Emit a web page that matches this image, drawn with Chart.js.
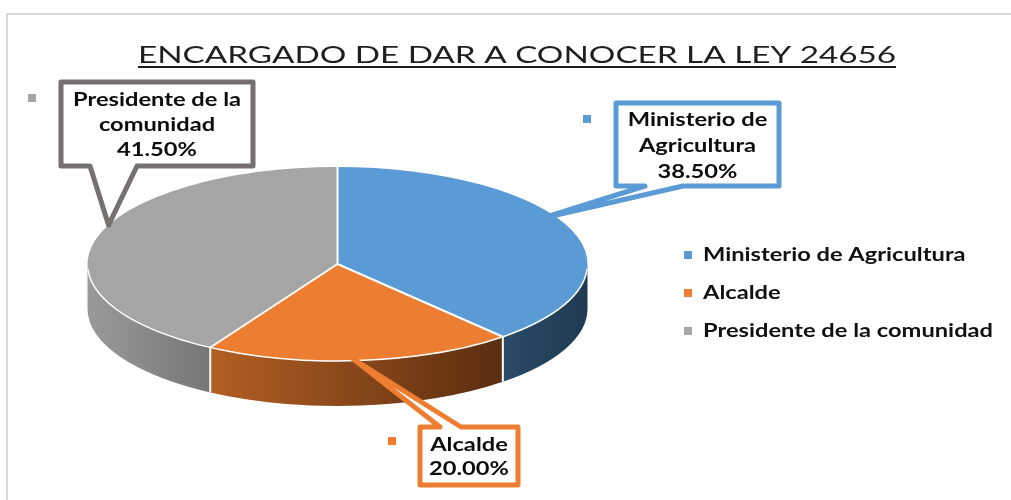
<!DOCTYPE html>
<html lang="es">
<head>
<meta charset="utf-8">
<title>Encargado de dar a conocer la ley 24656</title>
<script src="https://cdn.jsdelivr.net/npm/chart.js@4.4.1/dist/chart.umd.min.js"></script>
<style>
  html, body { margin: 0; padding: 0; background: #fff; }
  #wrap { width: 1011px; height: 500px; }
</style>
</head>
<body>
<div id="wrap"><canvas id="grafico"></canvas></div>
<script>
// datos
var titulo = 'ENCARGADO DE DAR A CONOCER LA LEY 24656';
var categorias = ['Ministerio de Agricultura', 'Alcalde', 'Presidente de la comunidad'];
var porcentajes = [38.5, 20.0, 41.5];

// estilos
var coloresTapa = ['#5b9bd5', '#ed7d31', '#a5a5a5'];
var coloresBorde = ['#5b9bd5', '#ed7d31', '#767171'];
var coloresLado = [['#2a4a67', '#1f3a52'], ['#b35f23', '#5a2e10'], ['#9a9a9a', '#767676']];

var RX = 250, RY = 97, PROF = 45;
var fuenteTexto = 'bold 18px Lato';

// cajas de las etiquetas (x, y, ancho, alto, lado de la flecha, base de la flecha, punto en la porcion)
var cajas = [
    { x: 616, y: 103, w: 163, h: 83, lado: 'abajo', b1: 645, b2: 683, f: 0.433, r: 0.95, m: [587, 119], l0: 17, lh: 26 },
    { x: 420, y: 427, w: 98, h: 58, lado: 'arriba', b1: 440, b2: 461, f: 0.525, r: 0.98, m: [392, 441], l0: 18, lh: 24 },
    { x: 61, y: 82, w: 192, h: 84, lado: 'abajo', b1: 90, b2: 137, f: 0.556, r: 1.0, m: [32, 98], l0: 18, lh: 25 }
];

function textoEstirado(ctx, txt, x, y, sx, align) {
    ctx.save();
    ctx.translate(x, y);
    ctx.scale(sx, 1);
    ctx.textAlign = align;
    ctx.textBaseline = 'middle';
    ctx.fillText(txt, 0, 0);
    ctx.restore();
}

function cortar(ctx, txt, max, sx) {
    var palabras = txt.split(' ');
    var lineas = [];
    var actual = '';
    palabras.forEach(function (p) {
        var prueba = actual ? actual + ' ' + p : p;
        if (ctx.measureText(prueba).width * sx > max && actual) {
            lineas.push(actual);
            actual = p;
        } else {
            actual = prueba;
        }
    });
    lineas.push(actual);
    return lineas;
}

var pastel3d = {
    id: 'pastel3d',
    beforeDatasetsDraw: function (chart) {
        var ctx = chart.ctx;
        var meta = chart.getDatasetMeta(0);
        var a0 = meta.data[0];
        var cx = a0.x, cy = a0.y, R = a0.outerRadius;
        // lados
        meta.data.forEach(function (arc, i) {
            var a1 = Math.max(arc.startAngle, 0);
            var a2 = Math.min(arc.endAngle, Math.PI);
            if (a2 <= a1) return;
            var xDer = cx + RX * Math.cos(a1);
            var xIzq = cx + RX * Math.cos(a2);
            var g = ctx.createLinearGradient(xIzq, 0, xDer, 0);
            g.addColorStop(0, coloresLado[i][0]);
            g.addColorStop(1, coloresLado[i][1]);
            ctx.beginPath();
            ctx.ellipse(cx, cy, RX, RY, 0, a1, a2);
            ctx.ellipse(cx, cy + PROF, RX, RY, 0, a2, a1, true);
            ctx.closePath();
            ctx.fillStyle = g;
            ctx.fill();
        });
        // separaciones en los lados
        ctx.strokeStyle = '#ffffff';
        ctx.lineWidth = 2;
        meta.data.forEach(function (arc) {
            var a = arc.startAngle;
            if (a > 0 && a < Math.PI) {
                var x = cx + RX * Math.cos(a), y = cy + RY * Math.sin(a);
                ctx.beginPath();
                ctx.moveTo(x, y);
                ctx.lineTo(x, y + PROF);
                ctx.stroke();
            }
        });
        // tapa elíptica
        ctx.save();
        ctx.translate(cx, cy);
        ctx.scale(RX / R, RY / R);
        ctx.translate(-cx, -cy);
    },
    afterDatasetsDraw: function (chart) {
        var ctx = chart.ctx;
        ctx.restore();
        var meta = chart.getDatasetMeta(0);
        var a0 = meta.data[0];
        var cx = a0.x, cy = a0.y;
        ctx.strokeStyle = '#ffffff';
        ctx.lineWidth = 2;
        meta.data.forEach(function (arc) {
            var a = arc.startAngle;
            ctx.beginPath();
            ctx.moveTo(cx, cy);
            ctx.lineTo(cx + RX * Math.cos(a), cy + RY * Math.sin(a));
            ctx.stroke();
        });
        ctx.lineWidth = 1.5;
        ctx.beginPath();
        ctx.ellipse(cx, cy, RX, RY, 0, 0.05, Math.PI - 0.05);
        ctx.stroke();
    },
    afterDraw: function (chart) {
        var ctx = chart.ctx;
        var meta = chart.getDatasetMeta(0);
        var a0 = meta.data[0];
        var cx = a0.x, cy = a0.y;

        // marco
        ctx.save();
        ctx.strokeStyle = '#d9d9d9';
        ctx.lineWidth = 2;
        ctx.beginPath();
        ctx.moveTo(7, 500);
        ctx.lineTo(7, 14);
        ctx.lineTo(1011, 14);
        ctx.stroke();

        // titulo
        ctx.fillStyle = '#1f1f1f';
        ctx.font = '24px Lato';
        var anchoT = ctx.measureText(titulo).width;
        var sxT = 758 / anchoT;
        textoEstirado(ctx, titulo, 517, 55, sxT, 'center');
        ctx.fillRect(138, 66, 758, 2);

        // escala del texto en negrita
        ctx.font = fuenteTexto;
        var sx = 290 / ctx.measureText(categorias[2]).width;

        // leyenda
        var filas = [255, 293, 331];
        categorias.forEach(function (c, i) {
            ctx.fillStyle = coloresTapa[i];
            ctx.fillRect(684, filas[i] - 4, 8, 8);
            ctx.fillStyle = '#111111';
            textoEstirado(ctx, c, 703, filas[i], sx, 'left');
        });

        // etiquetas con flecha
        cajas.forEach(function (b, i) {
            var arc = meta.data[i];
            var a = arc.startAngle + b.f * (arc.endAngle - arc.startAngle);
            var tx = cx + RX * b.r * Math.cos(a);
            var ty = cy + RY * b.r * Math.sin(a);
            ctx.beginPath();
            if (b.lado === 'abajo') {
                ctx.moveTo(b.x, b.y);
                ctx.lineTo(b.x + b.w, b.y);
                ctx.lineTo(b.x + b.w, b.y + b.h);
                ctx.lineTo(b.b2, b.y + b.h);
                ctx.lineTo(tx, ty);
                ctx.lineTo(b.b1, b.y + b.h);
                ctx.lineTo(b.x, b.y + b.h);
            } else {
                ctx.moveTo(b.x, b.y);
                ctx.lineTo(b.b1, b.y);
                ctx.lineTo(tx, ty);
                ctx.lineTo(b.b2, b.y);
                ctx.lineTo(b.x + b.w, b.y);
                ctx.lineTo(b.x + b.w, b.y + b.h);
                ctx.lineTo(b.x, b.y + b.h);
            }
            ctx.closePath();
            ctx.fillStyle = '#ffffff';
            ctx.fill();
            ctx.lineJoin = 'round';
            ctx.lineWidth = 5;
            ctx.strokeStyle = coloresBorde[i];
            ctx.stroke();

            ctx.fillStyle = coloresTapa[i];
            ctx.fillRect(b.m[0] - 4, b.m[1] - 4, 8, 8);

            var lineas = cortar(ctx, categorias[i], b.w - 14, sx);
            lineas.push(porcentajes[i].toFixed(2) + '%');
            ctx.fillStyle = '#0d0d0d';
            lineas.forEach(function (t, k) {
                textoEstirado(ctx, t, b.x + b.w / 2, b.y + b.l0 + k * b.lh, sx, 'center');
            });
        });
        ctx.restore();
    }
};

var ctx = document.getElementById('grafico').getContext('2d');
var grafico = new Chart(ctx, {
    type: 'pie',
    data: {
        labels: categorias,
        datasets: [{
            data: porcentajes,
            backgroundColor: coloresTapa,
            borderWidth: 0,
            clip: false
        }]
    },
    options: {
        responsive: true,
        maintainAspectRatio: false,
        animation: false,
        events: [],
        layout: { padding: { left: 88, right: 424, top: 100, bottom: 72 } },
        plugins: {
            legend: { display: false },
            title: { display: false },
            tooltip: { enabled: false }
        }
    },
    plugins: [pastel3d]
});
</script>
</body>
</html>
